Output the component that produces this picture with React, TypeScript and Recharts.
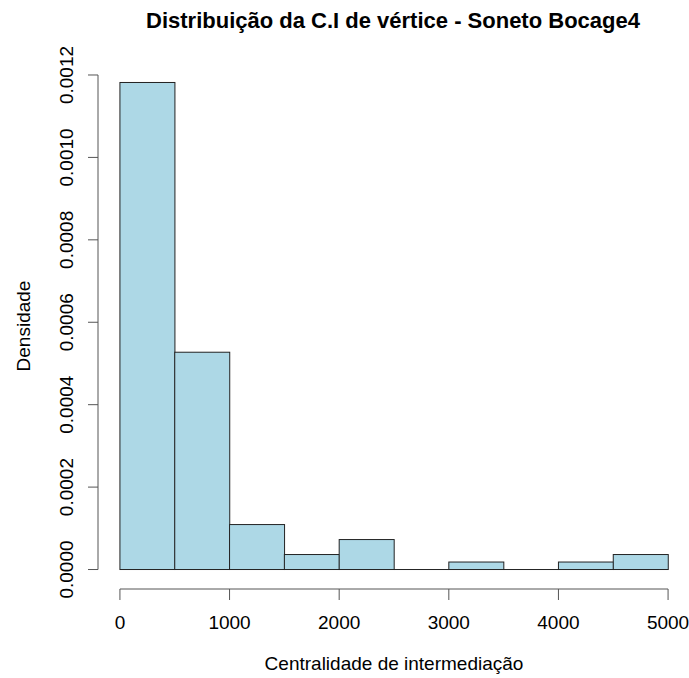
import { ComposedChart, Bar, XAxis, YAxis, ReferenceLine } from "recharts";

// histogram bins (break points) and counts per bin
const breaks = [0, 500, 1000, 1500, 2000, 2500, 3000, 3500, 4000, 4500, 5000];
const counts = [65, 29, 6, 2, 4, 0, 1, 0, 1, 2];
const xTicks = [0, 1000, 2000, 3000, 4000, 5000];
const yTicks = [0, 0.0002, 0.0004, 0.0006, 0.0008, 0.001, 0.0012];

const total = counts.reduce((a, b) => a + b, 0);
const data = counts.map((c, i) => ({
  mid: (breaks[i] + breaks[i + 1]) / 2,
  density: c / (total * (breaks[i + 1] - breaks[i])),
}));

// base-graphics style 4% padding around the data range
const xMin = breaks[0];
const xMax = breaks[breaks.length - 1];
const xPad = (xMax - xMin) * 0.04;
const maxD = Math.max(...data.map((d) => d.density));
const yPad = maxD * 0.04;

const FONT = '"Liberation Sans", Arial, Helvetica, sans-serif';
const FS = 19;
const AXIS = "#555";
const W = 691;
const H = 678;

// empty bins still get a flat outline at zero
const HistBar = (props: any) => {
  const { x, y, width, height } = props;
  if (!height) {
    return <line x1={x} x2={x + width} y1={y} y2={y} stroke="#222" strokeWidth={1} />;
  }
  return <rect x={x} y={y} width={width} height={height} fill="#ADD8E6" stroke="#222" strokeWidth={1} />;
};

const XTick = (props: any) => (
  <text x={props.x} y={629} textAnchor="middle" fontSize={FS} fontFamily={FONT} fill="#000">
    {props.payload.value}
  </text>
);

const YTick = (props: any) => (
  <text
    x={73}
    y={props.y}
    transform={`rotate(-90, 73, ${props.y})`}
    textAnchor="middle"
    fontSize={FS}
    fontFamily={FONT}
    fill="#000"
  >
    {props.payload.value.toFixed(4)}
  </text>
);

export default function App() {
  return (
    <div style={{ position: "absolute", left: 0, top: 0, width: 689, height: H, overflow: "hidden", background: "#fff" }}>
      <svg width={689} height={40} style={{ position: "absolute", left: 0, top: 0 }}>
        <text x={393} y={28} textAnchor="middle" fontSize={22} fontWeight="bold" fontFamily={FONT} fill="#000">
          Distribuição da C.I de vértice - Soneto Bocage4
        </text>
      </svg>
      <ComposedChart
        width={W}
        height={H}
        data={data}
        margin={{ top: 63, right: 1, bottom: 0, left: 0 }}
        barCategoryGap={0}
        barGap={0}
      >
        <XAxis
          dataKey="mid"
          type="number"
          domain={[xMin - xPad, xMax + xPad]}
          ticks={xTicks}
          interval={0}
          height={89}
          axisLine={false}
          tickLine={{ stroke: AXIS }}
          tickSize={11}
          tick={<XTick />}
          label={{
            content: (p: any) => (
              <text
                x={p.viewBox.x + p.viewBox.width / 2}
                y={670}
                textAnchor="middle"
                fontSize={FS}
                fontFamily={FONT}
                fill="#000"
              >
                Centralidade de intermediação
              </text>
            ),
          }}
        />
        <YAxis
          type="number"
          domain={[-yPad, maxD + yPad]}
          ticks={yTicks}
          interval={0}
          width={98}
          axisLine={false}
          tickLine={{ stroke: AXIS }}
          tickSize={10}
          tick={<YTick />}
          label={{
            content: (p: any) => {
              const cy = p.viewBox.y + p.viewBox.height / 2;
              return (
                <text
                  x={30}
                  y={cy}
                  transform={`rotate(-90, 30, ${cy})`}
                  textAnchor="middle"
                  fontSize={FS}
                  fontFamily={FONT}
                  fill="#000"
                >
                  Densidade
                </text>
              );
            },
          }}
        />
        <Bar dataKey="density" shape={<HistBar />} isAnimationActive={false} />
        {/* axis lines only span the labelled range */}
        <ReferenceLine
          segment={[{ x: xMin, y: -yPad }, { x: xMax, y: -yPad }]}
          stroke={AXIS}
          ifOverflow="visible"
        />
        <ReferenceLine
          segment={[{ x: xMin - xPad, y: yTicks[0] }, { x: xMin - xPad, y: yTicks[yTicks.length - 1] }]}
          stroke={AXIS}
          ifOverflow="visible"
        />
      </ComposedChart>
    </div>
  );
}
